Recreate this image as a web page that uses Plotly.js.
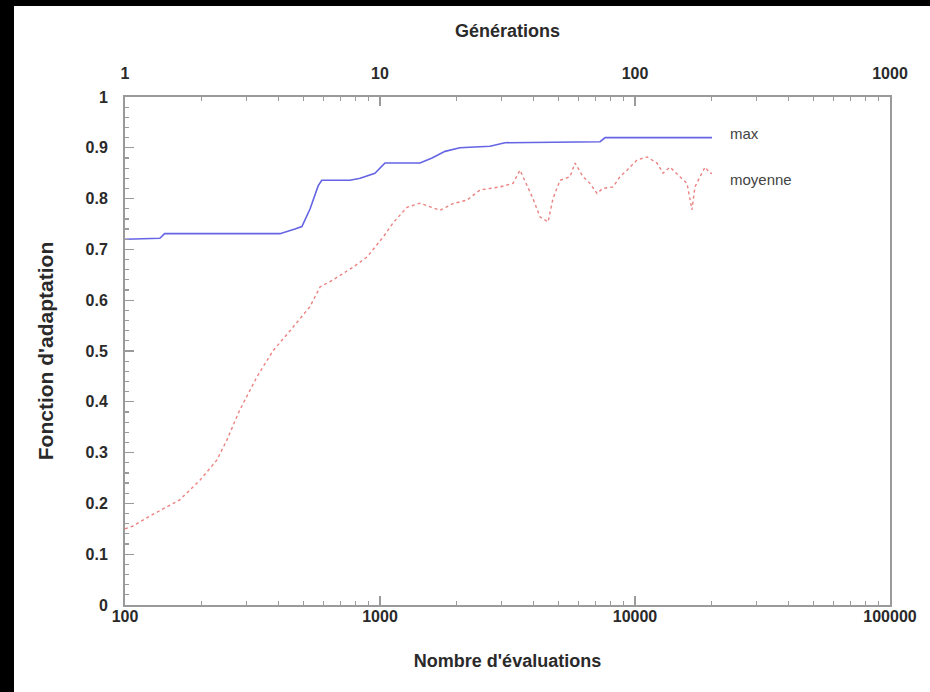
<!DOCTYPE html>
<html>
<head>
<meta charset="utf-8">
<script src="https://cdn.plot.ly/plotly-3.0.1.min.js"></script>
<style>
  html, body { margin: 0; padding: 0; background: #000; width: 930px; height: 692px; overflow: hidden; }
  #chart { position: absolute; left: 14px; top: 6px; width: 916px; height: 686px; background: #fff; }
</style>
</head>
<body>
<div id="chart"></div>
<script>
// ---- data ----
const maxEvals = [100, 137, 143, 405, 464, 494, 532, 572, 591, 763, 836, 955, 1046, 1435, 1600, 1799, 2058, 2699, 3091, 7294, 7640, 20045];
const maxValues = [0.720, 0.722, 0.731, 0.731, 0.740, 0.745, 0.780, 0.825, 0.836, 0.836, 0.840, 0.850, 0.870, 0.870, 0.880, 0.893, 0.900, 0.903, 0.910, 0.912, 0.920, 0.920];

const meanEvals = [100, 107, 125, 164, 197, 229, 251, 282, 329, 380, 444, 531, 582, 654, 784, 889, 1028, 1125, 1276, 1435, 1719, 1933, 2193, 2468, 2955, 3323, 3540, 3981, 4240, 4560, 4768, 5082, 5559, 5818, 6256, 6661, 7096, 7467, 8200, 8732, 9304, 10185, 11145, 12200, 12880, 13710, 15010, 15990, 16730, 17180, 17990, 18820, 19680, 20045];
const meanValues = [0.150, 0.155, 0.175, 0.207, 0.246, 0.285, 0.325, 0.384, 0.449, 0.500, 0.540, 0.587, 0.626, 0.640, 0.665, 0.685, 0.724, 0.752, 0.783, 0.791, 0.777, 0.790, 0.797, 0.817, 0.823, 0.830, 0.856, 0.800, 0.764, 0.754, 0.800, 0.836, 0.843, 0.870, 0.843, 0.830, 0.810, 0.820, 0.823, 0.843, 0.856, 0.876, 0.882, 0.870, 0.850, 0.862, 0.843, 0.830, 0.778, 0.823, 0.843, 0.862, 0.850, 0.850];

const xTickVals = [100, 1000, 10000, 100000];
const xTickText = ['100', '1000', '10000', '100000'];
const genTickVals = [1, 10, 100, 1000];
const genTickText = ['1', '10', '100', '1000'];
const yTickVals = [0, 0.1, 0.2, 0.3, 0.4, 0.5, 0.6, 0.7, 0.8, 0.9, 1];
const yTickText = ['0', '0.1', '0.2', '0.3', '0.4', '0.5', '0.6', '0.7', '0.8', '0.9', '1'];

const seriesNames = ['max', 'moyenne'];

// ---- chart ----
const FONT = 'Liberation Sans, Arial, sans-serif';
const TXT = '#2a2a2a';
const AX = '#9a9a9a';
const tickFont = { family: FONT, size: 16, color: TXT, weight: 'bold' };
const titleFont = { family: FONT, size: 18, color: TXT, weight: 'bold' };

const traces = [
  { x: maxEvals, y: maxValues, name: seriesNames[0], type: 'scatter', mode: 'lines',
    line: { color: 'rgb(100,100,228)', width: 1.6 }, xaxis: 'x', yaxis: 'y' },
  { x: meanEvals, y: meanValues, name: seriesNames[1], type: 'scatter', mode: 'lines',
    line: { color: 'rgb(236,130,130)', width: 1.4, dash: 'dot' }, xaxis: 'x', yaxis: 'y' }
];

const layout = {
  width: 916, height: 686,
  paper_bgcolor: '#fff', plot_bgcolor: '#fff',
  margin: { l: 111, r: 40, t: 91, b: 87 },
  showlegend: false,
  font: { family: FONT, color: TXT, size: 14 },
  xaxis: {
    type: 'log', range: [2, 5], side: 'bottom',
    tickvals: xTickVals, ticktext: xTickText,
    ticks: 'inside', ticklen: 9, tickcolor: AX, tickwidth: 1.2,
    minor: { ticks: 'inside', ticklen: 4, tickcolor: AX, dtick: 'D1', showgrid: false },
    showline: true, linecolor: AX, linewidth: 2,
    showgrid: false, zeroline: false,
    ticklabelstandoff: -4,
    tickfont: tickFont,
    title: { text: "Nombre d'évaluations", font: titleFont, standoff: 30 }
  },
  xaxis2: {
    type: 'log', range: [0, 3], side: 'top', overlaying: 'x', anchor: 'y',
    tickvals: genTickVals, ticktext: genTickText,
    ticks: 'inside', ticklen: 9, tickcolor: AX, tickwidth: 1.2,
    minor: { ticks: 'inside', ticklen: 4, tickcolor: AX, dtick: 'D1', showgrid: false },
    showline: true, linecolor: AX, linewidth: 2,
    showgrid: false, zeroline: false,
    ticklabelstandoff: 10,
    tickfont: tickFont,
    title: { text: 'Générations', font: titleFont, standoff: 22 }
  },
  yaxis: {
    range: [0, 1],
    tickvals: yTickVals, ticktext: yTickText,
    ticks: 'inside', ticklen: 9, tickcolor: AX, tickwidth: 1.2,
    minor: { ticks: 'inside', ticklen: 4, tickcolor: AX, dtick: 0.02, showgrid: false },
    showline: true, linecolor: AX, linewidth: 2, mirror: true,
    showgrid: false, zeroline: false,
    ticklabelstandoff: 12,
    tickfont: tickFont,
    title: { text: "Fonction d'adaptation", font: { family: FONT, size: 21, color: TXT, weight: 'bold' }, standoff: 26 }
  },
  annotations: [
    { xref: 'paper', yref: 'paper', x: 0.788, y: 0.929, xanchor: 'left', yanchor: 'middle',
      text: seriesNames[0], showarrow: false, font: { family: FONT, size: 15, color: '#444' } },
    { xref: 'paper', yref: 'paper', x: 0.788, y: 0.837, xanchor: 'left', yanchor: 'middle',
      text: seriesNames[1], showarrow: false, font: { family: FONT, size: 15, color: '#444' } }
  ]
};

// an empty companion trace so the top (generations) axis is drawn
traces.push({ x: [], y: [], xaxis: 'x2', yaxis: 'y', type: 'scatter', mode: 'lines', showlegend: false, hoverinfo: 'skip' });

Plotly.newPlot('chart', traces, layout, { displayModeBar: false, staticPlot: true });
</script>
</body>
</html>
